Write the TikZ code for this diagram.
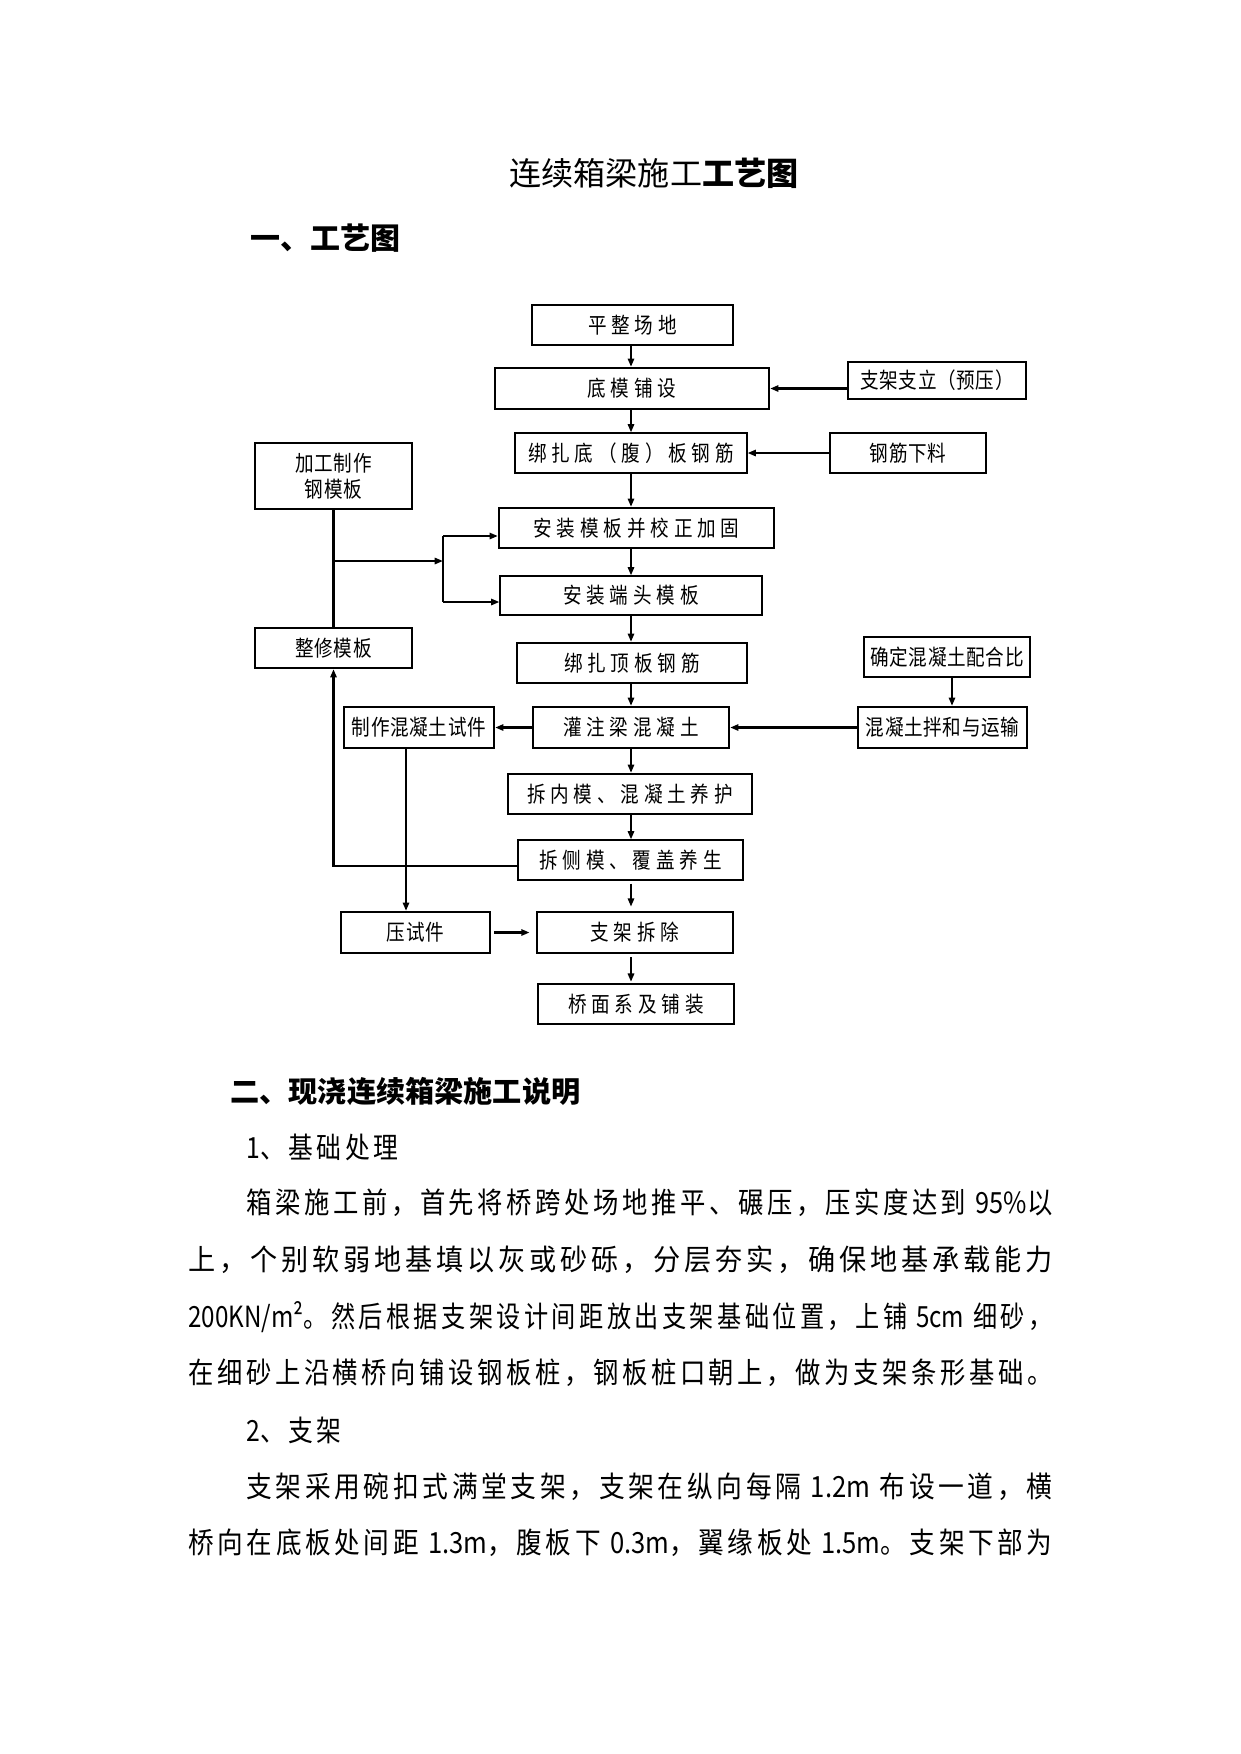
\documentclass[tikz,border=0pt]{standalone}
\usepackage{fontspec}
\usepackage{graphicx}
\usetikzlibrary{arrows.meta}
\setmainfont{Noto Sans CJK SC}
\newfontfamily\cjk{Noto Sans CJK SC}
\newfontfamily\chartw[FakeStretch=0.85,LetterSpace=22]{Noto Sans CJK SC}
\newfontfamily\chartc[FakeStretch=0.85,LetterSpace=3]{Noto Sans CJK SC}
\newfontfamily\bodyf[FakeStretch=0.85,LetterSpace=12]{Noto Sans CJK SC}
\newfontfamily\latf[FakeStretch=0.85]{Noto Sans CJK SC}
\begin{document}
\begin{tikzpicture}[x=0.48pt,y=-0.48pt,
  bx/.style={draw, inner sep=0pt, align=center},
  thk/.style={bx, line width=1.1pt},
  med/.style={bx, line width=0.8pt},
  thn/.style={bx, line width=0.55pt},
  wh/.style 2 args={minimum width=#1*0.48pt, minimum height=#2*0.48pt},
  wide/.style={font=\chartw\fontsize{10.5}{12.5}\selectfont},
  cmp/.style={font=\chartc\fontsize{10.5}{12.5}\selectfont},
  ln/.style={line width=1pt},
  arr/.style={ln, -{Triangle[length=4pt,width=3pt]}},
  bodyl/.style={anchor=west, inner sep=0pt}
]
\useasboundingbox (0,0) rectangle (1241,1754);

% headings
\node[inner sep=0pt] (title) at (654,173) {\cjk\fontsize{15.4}{18}\selectfont 连续箱梁施工{\bfseries 工艺图}};
\node[anchor=west, inner sep=0pt] (h1) at (250,238) {\cjk\bfseries\fontsize{14.4}{17}\selectfont 一、工艺图};

% chart boxes
\node[med, wide, wh={201}{40}] (ping) at (632.5,325) {平整场地};
\node[thk, wide, wh={274}{41}] (dimo) at (632,388.5) {底模铺设};
\node[med, cmp, wh={178}{37}] (zhijia) at (937,380.5) {支架支立（预压）};
\node[thn, wide, wh={232}{40}] (bangdi) at (631,453) {绑扎底（腹）板钢筋};
\node[thk, cmp, wh={156}{40}] (gangjin) at (908,453) {钢筋下料};
\node[thk, cmp, wh={157}{66}] (jiagong) at (333.5,476) {加工制作\\钢模板};
\node[thk, wide, wh={275}{40}] (anzhuang) at (636.5,528) {安装模板并校正加固};
\node[thn, wide, wh={262}{39}] (duantou) at (631,595.5) {安装端头模板};
\node[thk, cmp, wh={157}{40}] (zhengxiu) at (333.5,648) {整修模板};
\node[thk, wide, wh={230}{40}] (dingban) at (632,663) {绑扎顶板钢筋};
\node[med, cmp, wh={166}{40}] (queding) at (947,657) {确定混凝土配合比};
\node[thk, wide, wh={196}{41}] (guanzhu) at (631,727.5) {灌注梁混凝土};
\node[thk, cmp, wh={169}{41}] (banhe) at (942.5,727.5) {混凝土拌和与运输};
\node[thk, cmp, wh={150}{41}] (shijian) at (419,727.5) {制作混凝土试件};
\node[thk, wide, wh={244}{40}] (neimo) at (630,794) {拆内模、混凝土养护};
\node[thn, wide, wh={225}{40}] (cemo) at (630.5,860) {拆侧模、覆盖养生};
\node[thk, cmp, wh={149}{41}] (yashi) at (415.5,932.5) {压试件};
\node[thk, wide, wh={196}{41}] (chaichu) at (635,932.5) {支架拆除};
\node[thk, wide, wh={196}{40}] (qiaomian) at (636,1004) {桥面系及铺装};

% connectors
\coordinate (mx) at (631,0);
\draw[arr] (ping.south -| mx) -- (dimo.north -| mx);
\draw[arr] (dimo.south -| mx) -- (bangdi.north -| mx);
\draw[arr] (bangdi.south -| mx) -- (anzhuang.north -| mx);
\draw[arr] (anzhuang.south -| mx) -- (duantou.north -| mx);
\draw[arr] (duantou.south -| mx) -- (dingban.north -| mx);
\draw[arr] (dingban.south -| mx) -- (guanzhu.north -| mx);
\draw[arr] (guanzhu.south -| mx) -- (neimo.north -| mx);
\draw[arr] (neimo.south -| mx) -- (cemo.north -| mx);
\draw[arr, shorten <=1.5pt, shorten >=2pt] (cemo.south -| mx) -- (chaichu.north -| mx);
\draw[arr, shorten <=1.5pt, shorten >=0.5pt] (chaichu.south -| mx) -- (qiaomian.north -| mx);

\draw[arr] (zhijia.west |- dimo.east) -- (dimo.east);
\draw[arr] (gangjin.west) -- (bangdi.east);

\draw[ln] (jiagong.south) -- (zhengxiu.north);
\coordinate (br) at (443,561);
\coordinate (b1) at (443,536);
\coordinate (b2) at (443,602);
\draw[arr] (jiagong.south |- br) -- (br);
\draw[ln] (b1) -- (b2);
\draw[arr] (b1) -- (b1 -| anzhuang.west);
\draw[arr] (b2) -- (b2 -| duantou.west);

\coordinate (lp) at (0,866);
\draw[arr] (cemo.west |- lp) -| (zhengxiu.south);

\draw[arr] (guanzhu.west) -- (shijian.east);
\draw[arr] (banhe.west) -- (guanzhu.east);
\coordinate (qx) at (952,0);
\draw[arr] (queding.south -| qx) -- (banhe.north -| qx);
\coordinate (sx) at (406,0);
\draw[arr] (shijian.south -| sx) -- (yashi.north -| sx);
\draw[arr, shorten <=1.5pt, shorten >=3pt] (yashi.east) -- (chaichu.west);

% text section
\node[anchor=west, inner sep=0pt] (h2) at (230,1091) {\cjk\bfseries\fontsize{14}{16}\selectfont 二、现浇连续箱梁施工说明};
\node[bodyl] (s1) at (246,1147) {\bodyf\fontsize{14}{16}\selectfont {\latf 1}、基础处理};
\node[bodyl] (p1) at (246,1203) {\resizebox{386.88pt}{\height}{\bodyf\fontsize{14}{16}\selectfont 箱梁施工前，首先将桥跨处场地推平、碾压，压实度达到 {\latf 95\%}以}};
\node[bodyl] (p2) at (188,1260) {\resizebox{414.72pt}{\height}{\bodyf\fontsize{14}{16}\selectfont 上，个别软弱地基填以灰或砂砾，分层夯实，确保地基承载能力}};
\node[bodyl] (p3) at (188,1317) {\resizebox{414.72pt}{\height}{\bodyf\fontsize{14}{16}\selectfont {\latf 200KN/m²}。然后根据支架设计间距放出支架基础位置，上铺 {\latf 5cm} 细砂，}};
\node[bodyl] (p4) at (188,1373) {\resizebox{414.72pt}{\height}{\bodyf\fontsize{14}{16}\selectfont 在细砂上沿横桥向铺设钢板桩，钢板桩口朝上，做为支架条形基础。}};
\node[bodyl] (s2) at (246,1430) {\bodyf\fontsize{14}{16}\selectfont {\latf 2}、支架};
\node[bodyl] (p5) at (246,1487) {\resizebox{386.88pt}{\height}{\bodyf\fontsize{14}{16}\selectfont 支架采用碗扣式满堂支架，支架在纵向每隔 {\latf 1.2m} 布设一道，横}};
\node[bodyl] (p6) at (188,1543) {\resizebox{414.72pt}{\height}{\bodyf\fontsize{14}{16}\selectfont 桥向在底板处间距 {\latf 1.3m}，腹板下 {\latf 0.3m}，翼缘板处 {\latf 1.5m}。支架下部为}};
\end{tikzpicture}
\end{document}
